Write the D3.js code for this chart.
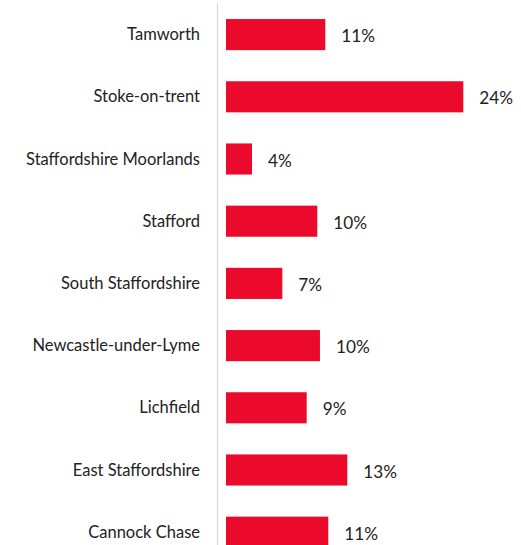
<!DOCTYPE html>
<html><head><meta charset="utf-8">
<script src="https://cdn.jsdelivr.net/npm/d3@7"></script>
<style>html,body{margin:0;padding:0;background:#fff;overflow:hidden}</style>
</head><body>
<script>
const categories = ["Tamworth","Stoke-on-trent","Staffordshire Moorlands","Stafford","South Staffordshire","Newcastle-under-Lyme","Lichfield","East Staffordshire","Cannock Chase"];
const values = [10.03, 23.97, 2.63, 9.22, 5.69, 9.49, 8.15, 12.25, 10.33];
const valueLabels = ["11%","24%","4%","10%","7%","10%","9%","13%","11%"];

const W = 521, H = 545;
const svg = d3.select("body").append("svg").attr("width", W).attr("height", H);

const y = d3.scaleBand().domain(categories).range([3.5, 563.3]).paddingInner(0.5).paddingOuter(0.25);
const x = d3.scaleLinear().domain([0, 25]).range([226, 226 + 247.5]);

svg.append("line").attr("x1", 217.5).attr("x2", 217.5).attr("y1", 3).attr("y2", H)
  .attr("stroke", "#d9d9d9").attr("stroke-width", 1.2);

const font = "Lato, 'Open Sans', sans-serif";

svg.selectAll("rect.bar").data(categories).join("rect").attr("class","bar")
  .attr("x", x(0)).attr("y", d => y(d))
  .attr("width", (d,i) => x(values[i]) - x(0)).attr("height", y.bandwidth())
  .attr("fill", "#eb0a2b");

svg.selectAll("text.cat").data(categories).join("text").attr("class","cat")
  .attr("x", 200).attr("y", d => y(d) + y.bandwidth()/2 - 0.5)
  .attr("text-anchor","end").attr("dominant-baseline","central")
  .attr("font-family", font).attr("font-size", 16.5).attr("fill","#222")
  .text(d => d);

svg.selectAll("text.val").data(categories).join("text").attr("class","val")
  .attr("x", (d,i) => x(values[i]) + 16).attr("y", d => y(d) + y.bandwidth()/2 + 1)
  .attr("dominant-baseline","central")
  .attr("font-family", font).attr("font-size", 17.2).attr("fill","#222")
  .text((d,i) => valueLabels[i]);
</script>
</body></html>
